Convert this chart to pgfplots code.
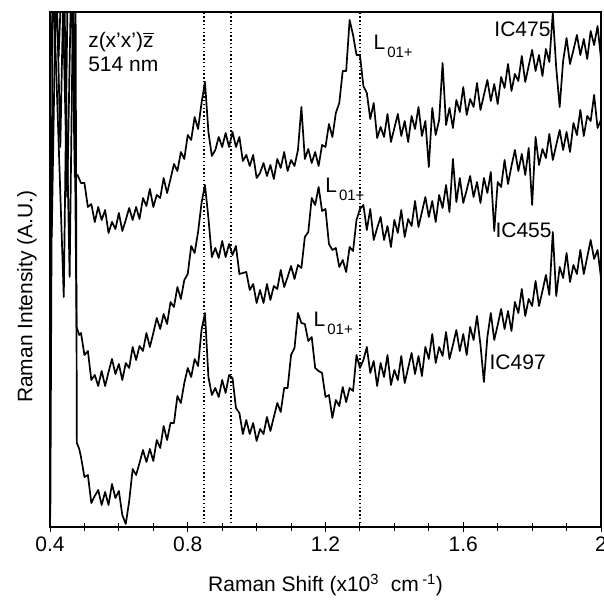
\documentclass[border=0pt]{standalone}
\usepackage{pgfplots}
\pgfplotsset{compat=1.18}
\usepackage{fontspec}
\setmainfont{Liberation Sans}
\newcommand{\lbl}{\fontsize{21}{25}\selectfont}
\newcommand{\Lo}{L\hspace{2pt}\raisebox{-8pt}{\fontsize{15}{15}\selectfont 01+}}
\newcommand{\zbar}{{\setbox0\hbox{z}\rlap{\rule[\dimexpr\ht0+2.5pt\relax]{\wd0}{1.2pt}}z}}
\begin{document}
\begin{tikzpicture}
\begin{axis}[
  scale only axis, width=551pt, height=515pt,
  xmin=0.4, xmax=2, ymin=0, ymax=515,
  xtick={0.4,0.8,1.2,1.6,2}, xticklabels={0.4,0.8,1.2,1.6,2},
  minor x tick num=3,
  ytick=\empty,
  xtick pos=bottom,
  tick align=center,
  major tick length=10pt, minor tick length=8pt,
  every tick/.style={black, line width=1pt},
  axis line style={line width=1.2pt},
  tick label style={font=\lbl},
  xticklabel style={yshift=-1pt},
  label style={font=\lbl},
  xlabel={Raman Shift (x10\textsuperscript{3}\ \ cm\,\textsuperscript{-1})},
  xlabel style={at={(axis description cs:0.5,-0.1126)}, anchor=center},
  ylabel={Raman Intensity (A.U.)},
  ylabel style={at={(axis description cs:-0.0417,0.447)}, anchor=center},
  spec/.style={black, line width=1.7pt, line join=round, no marks},
]
% IC475
\addplot[spec] coordinates {
(0.40,447) (0.412,560) (0.425,470) (0.435,560) (0.45,330) (0.462,560) (0.472,350) (0.48,352)
(0.49,344) (0.50,344) (0.51,320) (0.52,323) (0.53,305) (0.54,320) (0.55,307) (0.56,317) (0.57,294) (0.58,305)
(0.59,298) (0.60,314) (0.61,296) (0.62,307) (0.63,319) (0.64,307) (0.65,320) (0.66,308) (0.67,329) (0.68,321)
(0.69,338) (0.70,320) (0.71,332) (0.72,329) (0.73,349) (0.74,334) (0.75,348) (0.76,363) (0.77,356) (0.78,375)
(0.79,368) (0.80,392) (0.81,387) (0.82,410) (0.83,398) (0.84,424) (0.85,445) (0.86,395) (0.87,371) (0.88,377)
(0.89,390) (0.90,380) (0.91,394) (0.92,380) (0.93,395) (0.94,380) (0.95,390) (0.96,366) (0.97,372) (0.98,361)
(0.99,372) (1.00,349) (1.01,354) (1.02,364) (1.03,351) (1.04,362) (1.05,348) (1.06,368) (1.07,359) (1.08,375)
(1.09,356) (1.10,367) (1.11,361) (1.12,377) (1.13,420) (1.14,368) (1.15,378) (1.16,364) (1.17,375) (1.18,361)
(1.19,382) (1.20,380) (1.21,403) (1.22,390) (1.23,414) (1.24,424) (1.25,456) (1.26,456) (1.27,507) (1.28,492)
(1.29,472) (1.30,472) (1.31,441) (1.32,434) (1.33,408) (1.34,424) (1.35,389) (1.36,400) (1.37,390) (1.38,413)
(1.39,385) (1.40,399) (1.41,413) (1.42,391) (1.43,406) (1.44,385) (1.45,411) (1.46,398) (1.47,420) (1.48,391)
(1.49,406) (1.50,360) (1.51,419) (1.52,392) (1.53,407) (1.54,464) (1.55,402) (1.56,419) (1.57,399) (1.58,427)
(1.59,415) (1.60,440) (1.61,412) (1.62,428) (1.63,420) (1.64,444) (1.65,417) (1.66,432) (1.67,447) (1.68,426)
(1.69,443) (1.70,423) (1.71,450) (1.72,439) (1.73,463) (1.74,436) (1.75,453) (1.76,446) (1.77,471) (1.78,445)
(1.79,461) (1.80,477) (1.81,456) (1.82,472) (1.83,451) (1.84,478) (1.85,465) (1.86,514) (1.87,459) (1.88,420)
(1.89,466) (1.90,489) (1.91,463) (1.92,477) (1.93,492) (1.94,472) (1.95,488) (1.96,468) (1.97,496) (1.98,482)
(1.99,501) (2.00,468)
};
% IC455
\addplot[spec] coordinates {
(0.405,290) (0.418,560) (0.43,380) (0.44,560) (0.457,250) (0.468,560) (0.477,200) (0.485,192)
(0.49,194) (0.50,172) (0.51,176) (0.52,147) (0.53,152) (0.54,141) (0.55,156) (0.56,141) (0.57,155) (0.58,168)
(0.59,153) (0.60,163) (0.61,147) (0.62,164) (0.63,159) (0.64,180) (0.65,167) (0.66,181) (0.67,176) (0.68,194)
(0.69,180) (0.70,194) (0.71,209) (0.72,198) (0.73,213) (0.74,203) (0.75,225) (0.76,220) (0.77,240) (0.78,228)
(0.79,247) (0.80,253) (0.81,281) (0.82,274) (0.83,295) (0.84,324) (0.85,342) (0.86,309) (0.87,270) (0.88,279)
(0.89,269) (0.90,286) (0.91,270) (0.92,283) (0.93,272) (0.94,281) (0.95,253) (0.96,254) (0.97,255) (0.98,237)
(0.99,243) (1.00,224) (1.01,237) (1.02,224) (1.03,243) (1.04,227) (1.05,241) (1.06,238) (1.07,257) (1.08,240)
(1.09,250) (1.10,261) (1.11,248) (1.12,262) (1.13,259) (1.14,290) (1.15,295) (1.16,329) (1.17,322) (1.18,340)
(1.19,316) (1.20,318) (1.21,283) (1.22,277) (1.23,279) (1.24,260) (1.25,267) (1.26,255) (1.27,280) (1.28,276)
(1.29,307) (1.30,318) (1.31,322) (1.32,297) (1.33,318) (1.34,287) (1.35,299) (1.36,310) (1.37,287) (1.38,301)
(1.39,280) (1.40,307) (1.41,294) (1.42,317) (1.43,290) (1.44,308) (1.45,301) (1.46,326) (1.47,300) (1.48,315)
(1.49,330) (1.50,310) (1.51,326) (1.52,305) (1.53,332) (1.54,319) (1.55,342) (1.56,315) (1.57,368) (1.58,325)
(1.59,349) (1.60,324) (1.61,337) (1.62,351) (1.63,330) (1.64,345) (1.65,324) (1.66,349) (1.67,334) (1.68,355)
(1.69,296) (1.70,345) (1.71,340) (1.72,367) (1.73,343) (1.74,361) (1.75,377) (1.76,356) (1.77,373) (1.78,352)
(1.79,379) (1.80,322) (1.81,390) (1.82,362) (1.83,378) (1.84,369) (1.85,393) (1.86,367) (1.87,382) (1.88,397)
(1.89,377) (1.90,395) (1.91,375) (1.92,404) (1.93,392) (1.94,417) (1.95,391) (1.96,411) (1.97,406) (1.98,432)
(1.99,399) (2.00,407)
};
% IC497
\addplot[spec] coordinates {
(0.401,10) (0.408,560) (0.44,230) (0.452,560) (0.474,560) (0.478,84) (0.485,78)
(0.49,70) (0.50,50) (0.51,52) (0.52,24) (0.53,31) (0.54,37) (0.55,22) (0.56,35) (0.57,22) (0.58,43)
(0.59,29) (0.60,36) (0.61,12) (0.62,3) (0.63,26) (0.64,58) (0.65,52) (0.66,64) (0.67,77) (0.68,65)
(0.69,78) (0.70,66) (0.71,87) (0.72,79) (0.73,101) (0.74,87) (0.75,104) (0.76,104) (0.77,131) (0.78,124)
(0.79,144) (0.80,159) (0.81,150) (0.82,168) (0.83,161) (0.84,197) (0.85,214) (0.86,150) (0.87,132) (0.88,139)
(0.89,130) (0.90,147) (0.91,134) (0.92,152) (0.93,149) (0.94,119) (0.95,114) (0.96,93) (0.97,107) (0.98,93)
(0.99,104) (1.00,86) (1.01,98) (1.02,93) (1.03,110) (1.04,96) (1.05,110) (1.06,124) (1.07,115) (1.08,139)
(1.09,139) (1.10,172) (1.11,179) (1.12,214) (1.13,204) (1.14,203) (1.15,186) (1.16,190) (1.17,159) (1.18,156)
(1.19,154) (1.20,130) (1.21,132) (1.22,109) (1.23,127) (1.24,121) (1.25,140) (1.26,125) (1.27,139) (1.28,136)
(1.29,172) (1.30,159) (1.31,167) (1.32,180) (1.33,154) (1.34,166) (1.35,141) (1.36,164) (1.37,150) (1.38,172)
(1.39,142) (1.40,157) (1.41,147) (1.42,171) (1.43,144) (1.44,159) (1.45,174) (1.46,153) (1.47,171) (1.48,151)
(1.49,180) (1.50,168) (1.51,193) (1.52,164) (1.53,180) (1.54,171) (1.55,195) (1.56,168) (1.57,182) (1.58,197)
(1.59,176) (1.60,193) (1.61,172) (1.62,200) (1.63,187) (1.64,211) (1.65,182) (1.66,145) (1.67,190) (1.68,214)
(1.69,187) (1.70,202) (1.71,218) (1.72,198) (1.73,216) (1.74,196) (1.75,225) (1.76,214) (1.77,238) (1.78,211)
(1.79,228) (1.80,221) (1.81,246) (1.82,221) (1.83,236) (1.84,252) (1.85,232) (1.86,295) (1.87,231) (1.88,260)
(1.89,249) (1.90,274) (1.91,245) (1.92,262) (1.93,253) (1.94,277) (1.95,253) (1.96,270) (1.97,287) (1.98,268)
(1.99,277) (2.00,249)
};
\draw[line width=1.6pt, dash pattern=on 1.4pt off 2.4pt] (axis cs:0.848,0) -- (axis cs:0.848,515);
\draw[line width=1.6pt, dash pattern=on 1.4pt off 2.4pt] (axis cs:0.926,0) -- (axis cs:0.926,515);
\draw[line width=1.6pt, dash pattern=on 1.4pt off 2.4pt] (axis cs:1.30,0) -- (axis cs:1.30,515);
\node[anchor=base west, font=\lbl, inner sep=0pt] at (axis cs:0.5105,479) {z(x'x')\zbar};
\node[anchor=base west, font=\lbl, inner sep=0pt] at (axis cs:0.5105,455) {514 nm};
\node[anchor=base, font=\lbl, inner sep=0pt] at (axis cs:1.772,490) {IC475};
\node[anchor=base, font=\lbl, inner sep=0pt] at (axis cs:1.775,289) {IC455};
\node[anchor=base, font=\lbl, inner sep=0pt] at (axis cs:1.758,157) {IC497};
\node[anchor=base west, font=\lbl, inner sep=0pt] at (axis cs:1.339,477) {\Lo};
\node[anchor=base west, font=\lbl, inner sep=0pt] at (axis cs:1.199,334) {\Lo};
\node[anchor=base west, font=\lbl, inner sep=0pt] at (axis cs:1.165,200) {\Lo};
\end{axis}
\pgfresetboundingbox
\path (current axis.south west) ++(-50pt,-77pt) rectangle ++(604pt,604pt);
\end{tikzpicture}
\end{document}
